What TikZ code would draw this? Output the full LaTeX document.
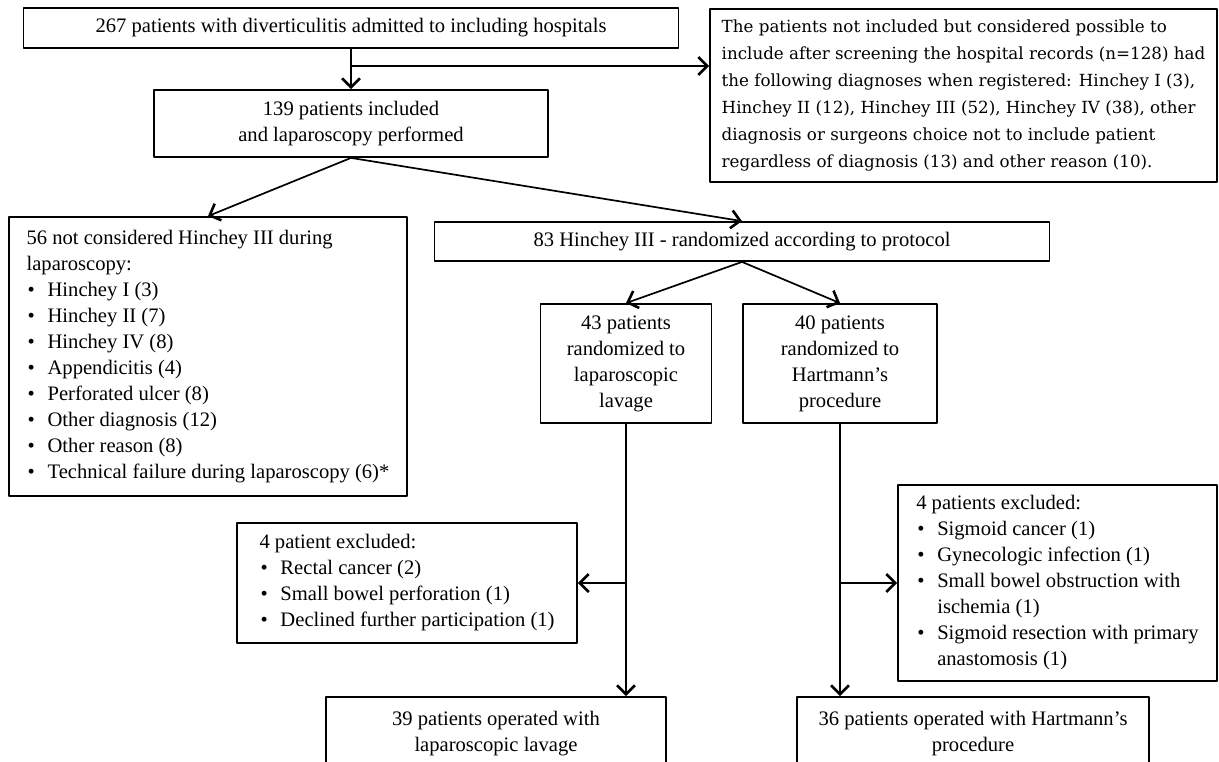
\documentclass[tikz,border=0pt]{standalone}
\usepackage{fontspec}
\setmainfont{Liberation Serif}
\newfontfamily\schfont{DejaVu Serif}
\usetikzlibrary{arrows.meta}

\newcommand{\bitem}{\hspace*{0.5pt}\makebox[10pt][l]{\textbullet}}
\newcommand{\bcont}{\hspace*{10.5pt}}

\begin{document}
\begin{tikzpicture}[x=0.5pt, y=-0.5pt, line cap=round, line join=round,
  >={Straight Barb[length=4.5pt,width=9pt,line width=1.3pt]},
  every node/.style={font=\fontsize{10.3}{13}\selectfont},
  box/.style={draw, line width=0.9pt, inner sep=0pt, align=center},
  lbox/.style={box, align=left},
  link/.style={->, line width=0.85pt}]

\path[use as bounding box] (0,0) rectangle (1219,761);
\clip (0,0) rectangle (1219,761);

% screening
\node[box, minimum width=327.5pt, minimum height=20pt] (admit) at (351,28)
  {267 patients with diverticulitis admitted to including hospitals};
\node[box, minimum width=197pt, minimum height=33.5pt] (incl) at (351,123.5)
  {139 patients included\\and laparoscopy performed};
\node[lbox, minimum width=253.5pt, minimum height=86.5pt,
  font=\schfont\fontsize{8.35}{13.5}\selectfont] (screened) at (963.5,95.5)
  {The patients not included but considered possible to\\
   include after screening the hospital records (n=128) had\\
   the following diagnoses when registered: Hinchey I (3),\\
   Hinchey II (12), Hinchey III (52), Hinchey IV (38), other\\
   diagnosis or surgeons choice not to include patient\\
   regardless of diagnosis (13) and other reason (10).};

% laparoscopy
\node[lbox, minimum width=199pt, minimum height=139.5pt] (notiii) at (208,356.5)
  {56 not considered Hinchey III during\\
   laparoscopy:\\
   \bitem Hinchey I (3)\\
   \bitem Hinchey II (7)\\
   \bitem Hinchey IV (8)\\
   \bitem Appendicitis (4)\\
   \bitem Perforated ulcer (8)\\
   \bitem Other diagnosis (12)\\
   \bitem Other reason (8)\\
   \bitem Technical failure during laparoscopy (6)*};
\node[box, minimum width=307.5pt, minimum height=19.5pt] (rand) at (742,241.5)
  {83 Hinchey III - randomized according to protocol};

% randomization
\node[box, minimum width=85.5pt, minimum height=59.5pt] (lav) at (626,363.5)
  {43 patients\\randomized to\\laparoscopic\\lavage};
\node[box, minimum width=97pt, minimum height=59.5pt] (hart) at (840,363.5)
  {40 patients\\randomized to\\Hartmann's\\procedure};

% exclusions
\node[lbox, minimum width=170pt, minimum height=60pt] (exlav) at (407,583)
  {4 patient excluded:\\
   \bitem Rectal cancer (2)\\
   \bitem Small bowel perforation (1)\\
   \bitem Declined further participation (1)};
\node[lbox, minimum width=159.5pt, minimum height=98pt] (exhart) at (1057.5,583)
  {4 patients excluded:\\
   \bitem Sigmoid cancer (1)\\
   \bitem Gynecologic infection (1)\\
   \bitem Small bowel obstruction with\\
   \bcont ischemia (1)\\
   \bitem Sigmoid resection with primary\\
   \bcont anastomosis (1)};

% operated
\node[box, minimum width=170pt, minimum height=36.5pt] (oplav) at (496,733.5)
  {39 patients operated with\\laparoscopic lavage};
\node[box, minimum width=176pt, minimum height=36.5pt] (ophart) at (973,733.5)
  {36 patients operated with Hartmann's\\procedure};

% connectors
\coordinate (fork1) at (351,66);
\draw[link] (admit.south) -- (incl.north);
\draw[link] (fork1) -- (fork1 -| screened.west);
\draw[link] (incl.south) -- (notiii.north);
\draw[link] (incl.south) -- (rand.north);
\draw[link] (rand.south) -- (lav.north);
\draw[link] (rand.south) -- (hart.north);
\coordinate (fork2) at (lav.south |- exlav.east);
\draw[link] (lav.south) -- (lav.south |- oplav.north);
\draw[link] (fork2) -- (exlav.east);
\coordinate (fork3) at (hart.south |- exhart.west);
\draw[link] (hart.south) -- (hart.south |- ophart.north);
\draw[link] (fork3) -- (exhart.west);
\end{tikzpicture}
\end{document}
